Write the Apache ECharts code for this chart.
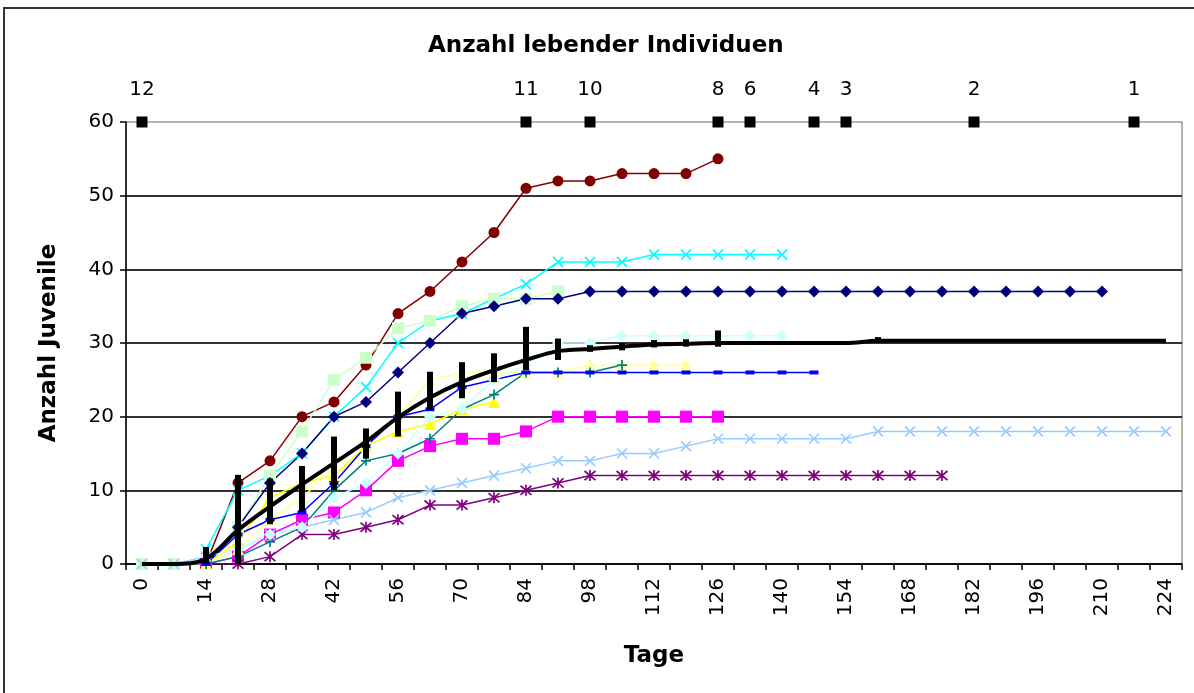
<!DOCTYPE html>
<html><head><meta charset="utf-8">
<script src="https://cdn.jsdelivr.net/npm/echarts@6/dist/echarts.min.js"></script>
<style>html,body{margin:0;padding:0;background:#fff}#c{width:1194px;height:693px}</style>
</head><body><div id="c"></div>
<script>
// Categories: days (every 7 days)
const days = ['0','7','14','21','28','35','42','49','56','63','70','77','84','91','98','105','112','119','126','133','140','147','154','161','168','175','182','189','196','203','210','217','224'];
const _ = null;
// Individual series (Anzahl Juvenile)
const darkRed    = [_,_,0,11,14,20,22,27,34,37,41,45,51,52,52,53,53,53,55];
const cyanS      = [_,_,2,10,12,15,20,24,30,33,34,36,38,41,41,41,42,42,42,42,42];
const lightGreen = [0,0,0,5,12,18,25,28,32,33,35,36,36,37];
const navy       = [_,_,0,5,11,15,20,22,26,30,34,35,36,36,37,37,37,37,37,37,37,37,37,37,37,37,37,37,37,37,37];
const magenta    = [_,_,0,1,4,6,7,10,14,16,17,17,18,20,20,20,20,20,20];
const purple     = [_,_,0,0,1,4,4,5,6,8,8,9,10,11,12,12,12,12,12,12,12,12,12,12,12,12];
const lightBlue  = [0,0,1,2,4,5,6,7,9,10,11,12,13,14,14,15,15,16,17,17,17,17,17,18,18,18,18,18,18,18,18,18,18];
const yellow     = [_,_,0,3,9,11,12,16,18,19,21,22];
const lightYellow= [_,_,0,2,6,9,13,17,20,25,26,26,26,26,27,27,27,27];
const teal       = [_,_,0,1,3,5,10,14,15,17,21,23,26,26,26,27];
const blue       = [_,_,0,4,6,7,11,16,20,21,24,25,26,26,26,26,26,26,26,26,26,26];
const lightCyan  = [_,_,1,2,4,5,9,11,15,20,21,25,27,30,30,31,31,31,31,31,31];
// Mean and error bars
const meanVals = [0,0,0.7,4.6,7.8,10.8,13.7,16.6,19.9,22.6,24.7,26.3,27.7,28.9,29.2,29.5,29.8,29.9,30,30,30,30,30,30.3,30.3,30.3,30.3,30.3,30.3,30.3,30.3,30.3,30.3];
const errLow   = [_,_,0,0,5.4,7.1,10,14.3,17.3,20.9,22.5,24.7,26.3,27.7,28.8,29.0,29.4,29.5,29.5,_,_,_,_,30.0];
const errHigh  = [_,_,2.3,12.1,11.6,13.3,17.3,18.4,23.4,26.1,27.4,28.6,32.2,30.6,29.7,30.0,30.4,30.5,31.7,_,_,_,_,30.8];
// Number of living individuals (top markers)
const aliveDays   = ['0','84','98','126','133','147','154','182','217'];
const aliveCounts = [12,11,10,8,6,4,3,2,1];
const aliveLevel  = 60;

const FONT = 'DejaVu Sans';
const P_X = 'path://M0,0L10,10M10,0L0,10';
const P_STAR = 'path://M0,0L10,10M10,0L0,10M5,-1L5,11';
const P_PLUS = 'path://M5,0L5,10M0,5L10,5';

function mk(name, data, color, symbol, size, stroke) {
  return {
    name, type: 'line', data, showAllSymbol: true, symbol, symbolSize: size,
    lineStyle: { color, width: 1.5 },
    itemStyle: stroke ? { color: 'transparent', borderColor: color, borderWidth: 1.7 } : { color },
    emphasis: { disabled: true }, z: 3
  };
}

const chart = echarts.init(document.getElementById('c'));
const errData = [];
for (let i = 0; i < days.length; i++) {
  if (errLow[i] != null && errHigh[i] != null) errData.push([i, errLow[i], errHigh[i]]);
}

chart.setOption({
  animation: false,
  backgroundColor: '#fff',
  textStyle: { fontFamily: FONT },
  graphic: [{ type: 'rect', shape: { x: 4, y: 8, width: 1200, height: 700 }, style: { fill: 'none', stroke: '#333', lineWidth: 2 }, silent: true, z: -10 }],
  title: { text: 'Anzahl lebender Individuen', left: 423, top: 30,
    textStyle: { fontFamily: FONT, fontSize: 23, fontWeight: 'bold', color: '#000' } },
  grid: { left: 126, right: 12, top: 122, bottom: 129, show: true, borderColor: '#999', borderWidth: 1.5 },
  xAxis: {
    type: 'category', data: days, boundaryGap: true,
    name: 'Tage', nameLocation: 'middle', nameGap: 81,
    nameTextStyle: { fontFamily: FONT, fontSize: 23, fontWeight: 'bold', color: '#000' },
    axisLine: { lineStyle: { color: '#000', width: 1.5 } },
    axisTick: { show: true, interval: 0, length: 6, lineStyle: { color: '#000', width: 1.5 } },
    axisLabel: { interval: 1, rotate: 90, margin: 14, fontFamily: FONT, fontSize: 20, color: '#000' },
    splitLine: { show: false }
  },
  yAxis: {
    type: 'value', min: 0, max: 60, interval: 10,
    name: 'Anzahl Juvenile', nameLocation: 'middle', nameGap: 65, nameRotate: 90,
    nameTextStyle: { fontFamily: FONT, fontSize: 23, fontWeight: 'bold', color: '#000' },
    axisLine: { show: true, lineStyle: { color: '#000', width: 1.5 } },
    axisTick: { show: true, length: 6, lineStyle: { color: '#000', width: 1.5 } },
    axisLabel: { margin: 12, fontFamily: FONT, fontSize: 20, color: '#000' },
    splitLine: { show: true, showMaxLine: false, lineStyle: { color: '#333', width: 2 } }
  },
  series: [
    mk('S1', darkRed, '#800000', 'circle', 11),
    mk('S2', cyanS, '#00FFFF', P_X, 10, true),
    mk('S3', lightGreen, '#CCFFCC', 'rect', 12),
    mk('S4', navy, '#000080', 'diamond', 12),
    mk('S5', magenta, '#FF00FF', 'rect', 12),
    mk('S6', purple, '#800080', P_STAR, 11, true),
    mk('S7', lightBlue, '#99CCFF', P_X, 10, true),
    mk('S8', yellow, '#FFFF00', 'triangle', 12),
    mk('S9', lightYellow, '#FFFF99', 'triangle', 12),
    mk('S10', teal, '#008080', P_PLUS, 10, true),
    mk('S11', blue, '#0000FF', 'rect', [9, 4]),
    mk('S12', lightCyan, '#CCFFFF', 'diamond', 12),
    {
      name: 'Mittelwert', type: 'line', data: meanVals, smooth: 0.35, showSymbol: false,
      lineStyle: { color: '#000', width: 4 }, itemStyle: { color: '#000' }, z: 5, emphasis: { disabled: true }
    },
    {
      name: 'Fehler', type: 'custom', data: errData, z: 6,
      renderItem: function (params, api) {
        const x = api.value(0);
        const p1 = api.coord([x, api.value(1)]);
        const p2 = api.coord([x, api.value(2)]);
        return { type: 'line', shape: { x1: p1[0], y1: p1[1], x2: p2[0], y2: p2[1] },
          style: { stroke: '#000', lineWidth: 6 } };
      }
    },
    {
      name: 'Anzahl lebender Individuen', type: 'line', clip: false, z: 7,
      data: aliveDays.map((d, i) => ({ value: [d, aliveLevel], label: { formatter: String(aliveCounts[i]) } })),
      symbol: 'rect', symbolSize: 11, showAllSymbol: true,
      lineStyle: { opacity: 0 }, itemStyle: { color: '#000' },
      label: { show: true, position: 'top', distance: 17, fontFamily: FONT, fontSize: 20, color: '#000' },
      emphasis: { disabled: true }
    }
  ]
});
</script></body></html>
